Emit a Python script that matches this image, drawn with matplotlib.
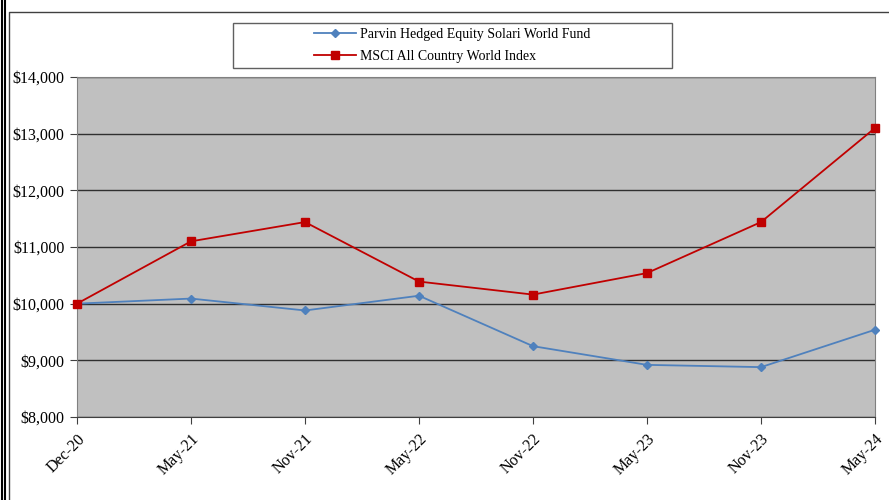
import numpy as np
from matplotlib import pyplot as plt
from matplotlib.lines import Line2D
from matplotlib.patches import Rectangle

dates = ["Dec-20", "May-21", "Nov-21", "May-22", "Nov-22", "May-23", "Nov-23", "May-24"]
fund = [10000, 10090, 9880, 10140, 9250, 8920, 8880, 9540]
msci = [10000, 11100, 11440, 10390, 10160, 10540, 11440, 13100]
yticks = [8000, 9000, 10000, 11000, 12000, 13000, 14000]

plt.rcParams['font.family'] = ['Liberation Serif', 'DejaVu Serif']

fig = plt.figure(figsize=(8.89, 5.0), dpi=100)
ax = fig.add_axes([77/889, 83/500, 798/889, 340/500])
ax.set_facecolor('#C0C0C0')

x = np.arange(len(dates))
ax.plot(x, fund, color='#4F81BD', lw=1.3, marker='D', ms=4.5,
        label="Parvin Hedged Equity Solari World Fund", clip_on=False, zorder=3)
ax.plot(x, msci, color='#C00000', lw=1.3, marker='s', ms=6,
        label="MSCI All Country World Index", clip_on=False, zorder=4)

ax.set_xlim(0, len(dates) - 1)
ax.set_ylim(8000, 14000)
ax.set_yticks(yticks)
ax.set_yticklabels(["${:,}".format(v) for v in yticks], fontsize=11.5)
ax.set_xticks(x)
ax.set_xticklabels(dates, rotation=45, ha='right', rotation_mode='anchor', fontsize=11.5)
ax.tick_params(axis='both', direction='out', length=5, color='#404040')
ax.tick_params(axis='y', pad=4)
ax.tick_params(axis='x', pad=5)

ax.grid(True, axis='y', color='#303030', lw=1)
ax.set_axisbelow(True)
for s in ['left', 'right', 'top']:
    ax.spines[s].set_color('#808080')
ax.spines['bottom'].set_color('#404040')

# legend box
fig.add_artist(Rectangle((233/889, 1 - 68/500), 439/889, 45/500, transform=fig.transFigure,
                         fill=False, edgecolor='#606060', lw=1))
fig.legend(loc='center', bbox_to_anchor=(452/889, 1 - 45.5/500), frameon=False,
           fontsize=10, handlelength=3.0, handletextpad=0.3, labelspacing=0.6,
           borderpad=0)

# outer frame
fig.add_artist(Line2D([1.5/889, 1.5/889], [0, 1], color='black', lw=1.5))
fig.add_artist(Line2D([4.5/889, 4.5/889], [0, 1], color='black', lw=1.5))
fig.add_artist(Line2D([8.5/889, 8.5/889, 1], [0, 1 - 11.5/500, 1 - 11.5/500],
                      color='#404040', lw=1))

fig.savefig('out.png', dpi=100)
